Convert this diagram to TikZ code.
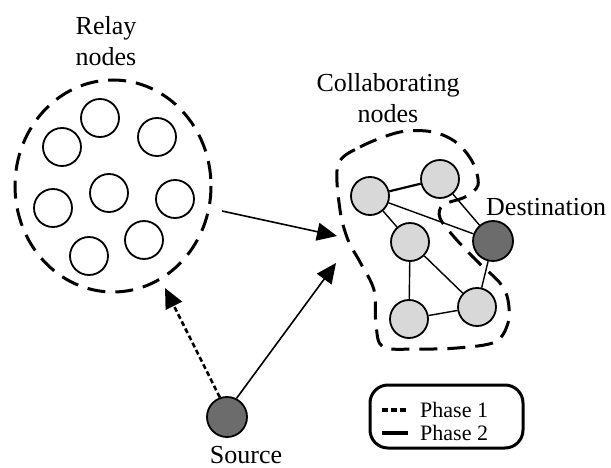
\documentclass[tikz,border=0pt]{standalone}
\usepackage{fontspec}
\setmainfont{Liberation Serif}
\usetikzlibrary{arrows.meta}
\definecolor{lightnode}{RGB}{216,216,216}
\definecolor{darknode}{RGB}{108,108,108}
\tikzset{
  relaynode/.style={circle, draw, line width=1.8pt, minimum size=38pt, inner sep=0pt},
  collabnode/.style={circle, draw, line width=1.8pt, fill=lightnode, minimum size=38pt, inner sep=0pt},
  darkcircle/.style={circle, draw, line width=1.8pt, fill=darknode, minimum size=40pt, inner sep=0pt},
  groupline/.style={line width=3pt, dash pattern=on 18pt off 10pt},
  link/.style={line width=1.4pt},
  flow/.style={line width=1.6pt, -{Triangle[length=20pt,width=18pt]}},
  phaseone/.style={line width=2.6pt, dash pattern=on 5pt off 3pt, -{Triangle[length=20pt,width=18pt]}},
  biglabel/.style={font=\fontsize{26}{31}\selectfont, inner sep=0pt, align=center},
  legendtext/.style={font=\fontsize{22}{26}\selectfont, inner sep=0pt, anchor=west}
}
\begin{document}
\begin{tikzpicture}[x=1pt,y=-1pt]
\useasboundingbox (0,0) rectangle (611,468);

% relay group
\draw[groupline] (113,186) ellipse [x radius=98, y radius=106];
\node[biglabel] (relaylbl) at (106,41) {Relay\\nodes};
\node[relaynode] (r1) at (100,118) {};
\node[relaynode] (r2) at (157,137) {};
\node[relaynode] (r3) at (62,147) {};
\node[relaynode] (r4) at (109,193) {};
\node[relaynode] (r5) at (175,199) {};
\node[relaynode] (r6) at (53,208) {};
\node[relaynode] (r7) at (144,240) {};
\node[relaynode] (r8) at (89,256) {};
\coordinate (relayout) at (222,211);
\coordinate (relayin) at (165,288);

% collaborating group
\node[biglabel] (collablbl) at (388,98) {Collaborating\\nodes};
\draw[groupline] plot[smooth cycle, tension=0.55] coordinates {
  (338,165) (360,147) (400,132) (433,132) (457,143) (473,163) (478,185)
  (465,197) (443,205) (440,218) (455,238) (478,262) (500,283) (508,300)
  (508,323) (495,342) (457,348) (417,349) (383,347) (376,325) (374,290)
  (360,262) (348,240) (340,210)};
\node[collabnode] (a) at (370,196) {};
\node[collabnode] (b) at (440,179) {};
\node[collabnode] (c) at (410,242) {};
\node[darkcircle] (d) at (493,241) {};
\node[collabnode] (e) at (409,319) {};
\node[collabnode] (f) at (477,307) {};
\node[biglabel, anchor=west] (destlbl) at (486,207) {Destination};
\draw[link, line width=2.2pt] (a) -- (b);
\draw[link] (a) -- (d);
\draw[link] (a) -- (c);
\draw[link] (b) -- (d);
\draw[link] (c) -- (e);
\draw[link] (c) -- (f);
\draw[link] (e) -- (f);
\draw[link] (f) -- (d);
\coordinate (collabin1) at (337,236);
\coordinate (collabin2) at (336,263);

% source
\node[darkcircle] (src) at (227,417) {};
\node[biglabel] (srclbl) at (246,455) {Source};

% transmissions
\draw[flow] (relayout) -- (collabin1);
\draw[flow] (src.63) -- (collabin2);
\draw[phaseone] (src.110) -- (relayin);

% legend
\node[draw, line width=3pt, rounded corners=18pt, minimum width=153pt, minimum height=63pt] (legend) at (446.5,416.5) {};
\coordinate (l1a) at (382,410);
\coordinate (l1b) at (408,410);
\coordinate (l2a) at (382,433);
\coordinate (l2b) at (408,433);
\draw[line width=3.2pt, dash pattern=on 6pt off 3pt] (l1a) -- (l1b);
\draw[line width=3.2pt] (l2a) -- (l2b);
\node[legendtext] (p1) at (420,410) {Phase 1};
\node[legendtext] (p2) at (420,433) {Phase 2};
\end{tikzpicture}
\end{document}
